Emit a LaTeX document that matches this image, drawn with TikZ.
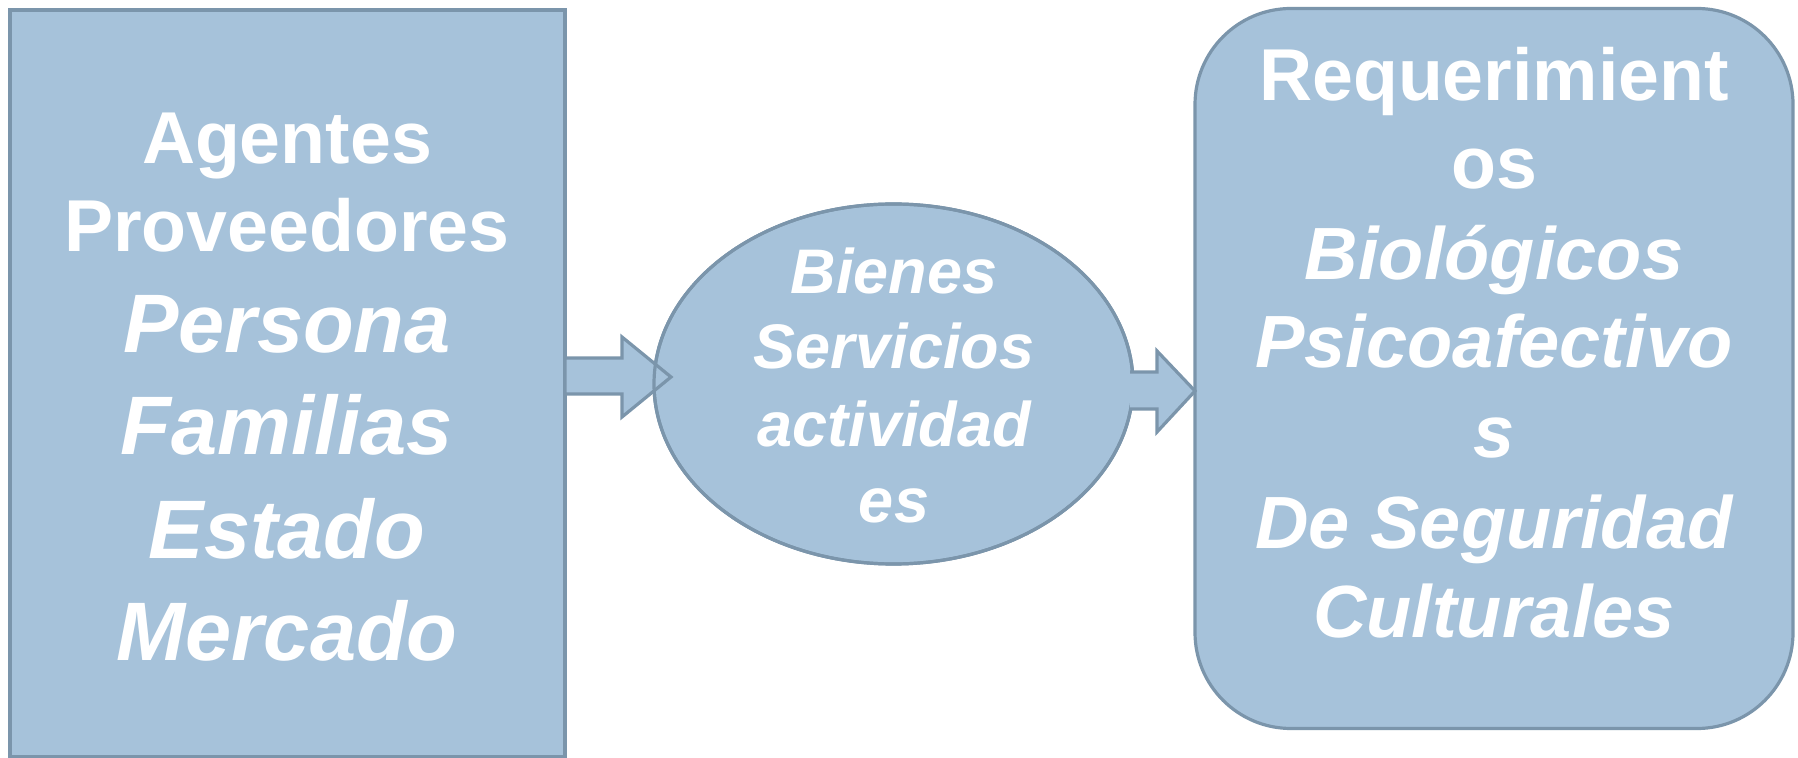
\documentclass[tikz,border=0pt]{standalone}
\usepackage{fontspec}
\usetikzlibrary{shapes.geometric}
\setmainfont{Liberation Sans}
\definecolor{boxfill}{HTML}{A6C2DA}
\definecolor{boxline}{HTML}{7B95AB}
\tikzset{
  shapebox/.style={draw=boxline, fill=boxfill, line width=1.6pt, inner sep=0pt, outer sep=0pt},
  blockarrow/.style={draw=boxline, fill=boxfill, line width=1.6pt, line join=miter},
  txt/.style={text=white, anchor=base, inner sep=0pt, outer sep=0pt},
  regbig/.style={txt, font=\bfseries\fontsize{36.75pt}{40pt}\selectfont},
  itbig/.style={txt, font=\bfseries\itshape\fontsize{41.5pt}{45pt}\selectfont},
  itmid/.style={txt, font=\bfseries\itshape\fontsize{37pt}{40pt}\selectfont},
  itsmall/.style={txt, font=\bfseries\itshape\fontsize{31.5pt}{35pt}\selectfont},
}
\begin{document}
\begin{tikzpicture}[x=0.5pt, y=-0.5pt]
\useasboundingbox (0,0) rectangle (1798,758);
% shapes
\node[shapebox, rectangle, minimum width=277.5pt, minimum height=373.5pt] (L) at (287.5,383.5) {};
\node[shapebox, ellipse, minimum width=239.5pt, minimum height=180pt] (E) at (893.5,384) {};
\node[shapebox, rectangle, rounded corners=48pt, minimum width=299pt, minimum height=360pt] (R) at (1494,368.5) {};
% connectors (block arrows)
\coordinate (a1tip) at (671,377);
\coordinate (a2tip) at (R.west |- 0,391);
\draw[blockarrow] (L.east |- 0,358) -- (622,358) -- (622,337) -- (a1tip) -- (622,417) -- (622,394) -- (L.east |- 0,394) -- cycle;
\draw[boxline, line width=1.6pt] (E.center) ellipse [x radius=239.5, y radius=180];
\draw[blockarrow] (1130,372) -- (1157,372) -- (1157,351) -- (a2tip) -- (1157,432) -- (1157,409) -- (1130,409);
% left texts
\node[regbig] (l1) at (287,164) {Agentes};
\node[regbig] (l2) at (287,252) {Proveedores};
\node[itbig] (l3) at (287,353) {Persona};
\node[itbig] (l4) at (287,455) {Familias};
\node[itbig] (l5) at (287,559) {Estado};
\node[itbig] (l6) at (287,660) {Mercado};
% ellipse texts
\node[itsmall] (e1) at (894,294) {Bienes};
\node[itsmall] (e2) at (894,369) {Servicios};
\node[itsmall] (e3) at (894,447) {actividad};
\node[itsmall] (e4) at (894,523) {es};
% right texts
\node[regbig] (r1) at (1494,101) {Requerimient};
\node[regbig] (r2) at (1494,189) {os};
\node[itmid] (r3) at (1494,280) {Biológicos};
\node[itmid] (r4) at (1494,368) {Psicoafectivo};
\node[itmid] (r5) at (1494,458) {s};
\node[itmid] (r6) at (1494,549) {De Seguridad};
\node[itmid] (r7) at (1494,637) {Culturales};
\end{tikzpicture}
\end{document}
